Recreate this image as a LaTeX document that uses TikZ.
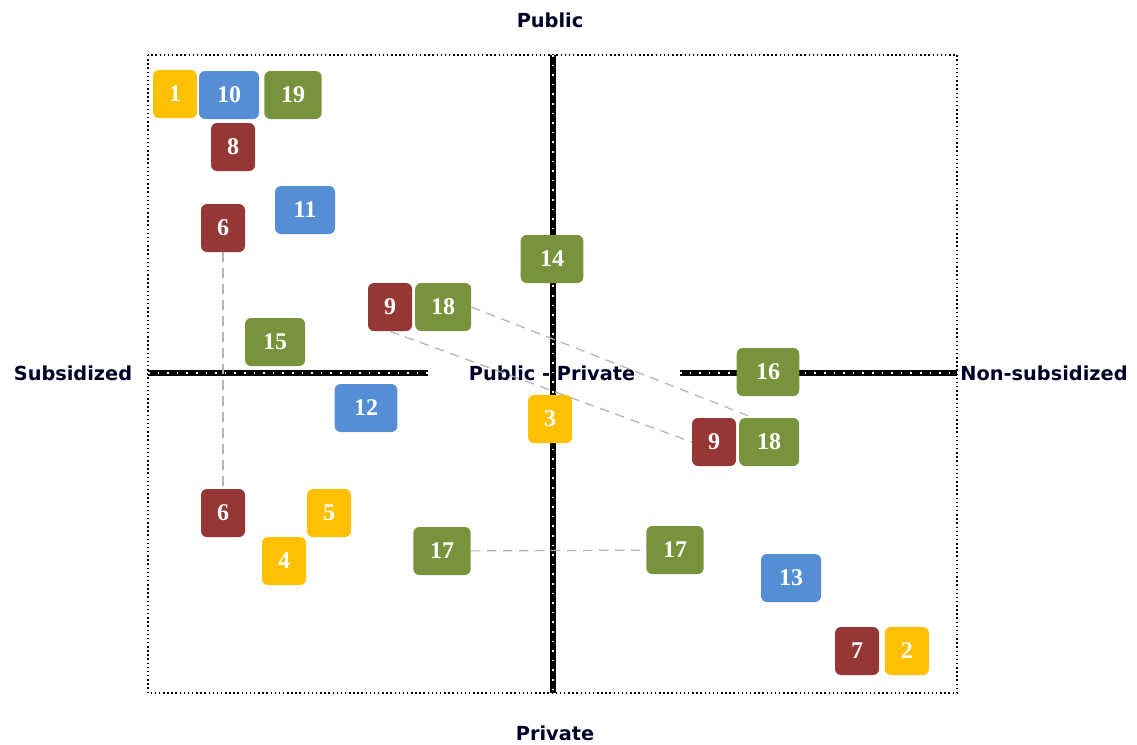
\documentclass[tikz,border=0pt]{standalone}
\usepackage{fontspec}
\setmainfont{Liberation Serif}
\newfontfamily\axfont{DejaVu Sans}
\usetikzlibrary{positioning}

\definecolor{yel}{HTML}{FFC000}
\definecolor{blu}{HTML}{558ED5}
\definecolor{grn}{HTML}{77933C}
\definecolor{red}{HTML}{953735}

\begin{document}
\begin{tikzpicture}[x=0.75pt,y=-0.75pt,
    tag/.style={rounded corners=4.5pt,minimum width=33pt,minimum height=36pt,
                inner xsep=10pt,text=white,font=\fontsize{18}{20}\selectfont\bfseries},
    ax/.style={font=\axfont\bfseries\fontsize{14.5}{17}\selectfont,text=black!85!blue},
    link/.style={gray!60,line width=0.9pt,dash pattern=on 7pt off 5pt},
    axis/.style={line width=3.8pt},
    axisdots/.style={white,line width=0.8pt,dash pattern=on 1.2pt off 6pt}]
  \useasboundingbox (0,0) rectangle (1137,744);

  % frame and axes
  \draw[dotted,line width=1.1pt] (148,55) rectangle (957,693);
  \coordinate (top) at (553,55);
  \coordinate (bot) at (553,693);
  \coordinate (lft) at (148,373);
  \coordinate (lgap) at (428,373);
  \coordinate (rgap) at (680,373);
  \coordinate (rgt) at (957,373);
  \foreach \a/\b in {top/bot,lft/lgap,rgap/rgt}{
    \draw[axis] (\a) -- (\b);
    \draw[axisdots] (\a) -- (\b);
  }

  \node[ax] (pub)  at (550,20)  {Public};
  \node[ax] (priv) at (555,733) {Private};
  \node[ax] (sub)  at (73,373)  {Subsidized};
  \node[ax] (nsub) at (1044,373) {Non-subsidized};
  \node[ax] (pp)   at (552,373) {Public - Private};

  % boxes
  \node[tag,fill=yel] (n1)  at (175,94)  {1};
  \node[tag,fill=blu,minimum width=45pt] (n10) at (229,95) {10};
  \node[tag,fill=grn,minimum width=43pt] (n19) at (293,95) {19};
  \node[tag,fill=red] (n8)  at (233,147) {8};
  \node[tag,fill=blu,minimum width=45pt] (n11) at (305,210) {11};
  \node[tag,fill=red] (n6a) at (223,228) {6};
  \node[tag,fill=grn,minimum width=47pt] (n14) at (552,259) {14};
  \node[tag,fill=red] (n9a) at (390,307) {9};
  \node[tag,fill=grn,minimum width=42pt] (n18a) [right=2pt of n9a] {18};
  \node[tag,fill=grn,minimum width=45pt] (n15) at (275,342) {15};
  \node[tag,fill=grn,minimum width=47pt] (n16) at (768,372) {16};
  \node[tag,fill=blu,minimum width=47pt] (n12) at (366,408) {12};
  \node[tag,fill=yel] (n3)  at (550,419) {3};
  \node[tag,fill=red] (n9b) at (714,442) {9};
  \node[tag,fill=grn,minimum width=45pt] (n18b) [right=2pt of n9b] {18};
  \node[tag,fill=red] (n6b) at (223,513) {6};
  \node[tag,fill=yel] (n5)  at (329,513) {5};
  \node[tag,fill=yel] (n4)  at (284,561) {4};
  \node[tag,fill=grn,minimum width=43pt] (n17a) at (442,551) {17};
  \node[tag,fill=grn,minimum width=43pt] (n17b) at (675,550) {17};
  \node[tag,fill=blu,minimum width=45pt] (n13) at (791,578) {13};
  \node[tag,fill=red] (n7)  at (857,651) {7};
  \node[tag,fill=yel] (n2)  [right=4pt of n7] {2};

  % links between the same items
  \draw[link] (n6a) -- (n6b);
  \draw[link] (n9a.south) -- (n9b.west);
  \draw[link] (n18a.east) -- ([xshift=-12pt]n18b.north);
  \draw[link] (n17a) -- (n17b);
\end{tikzpicture}
\end{document}
